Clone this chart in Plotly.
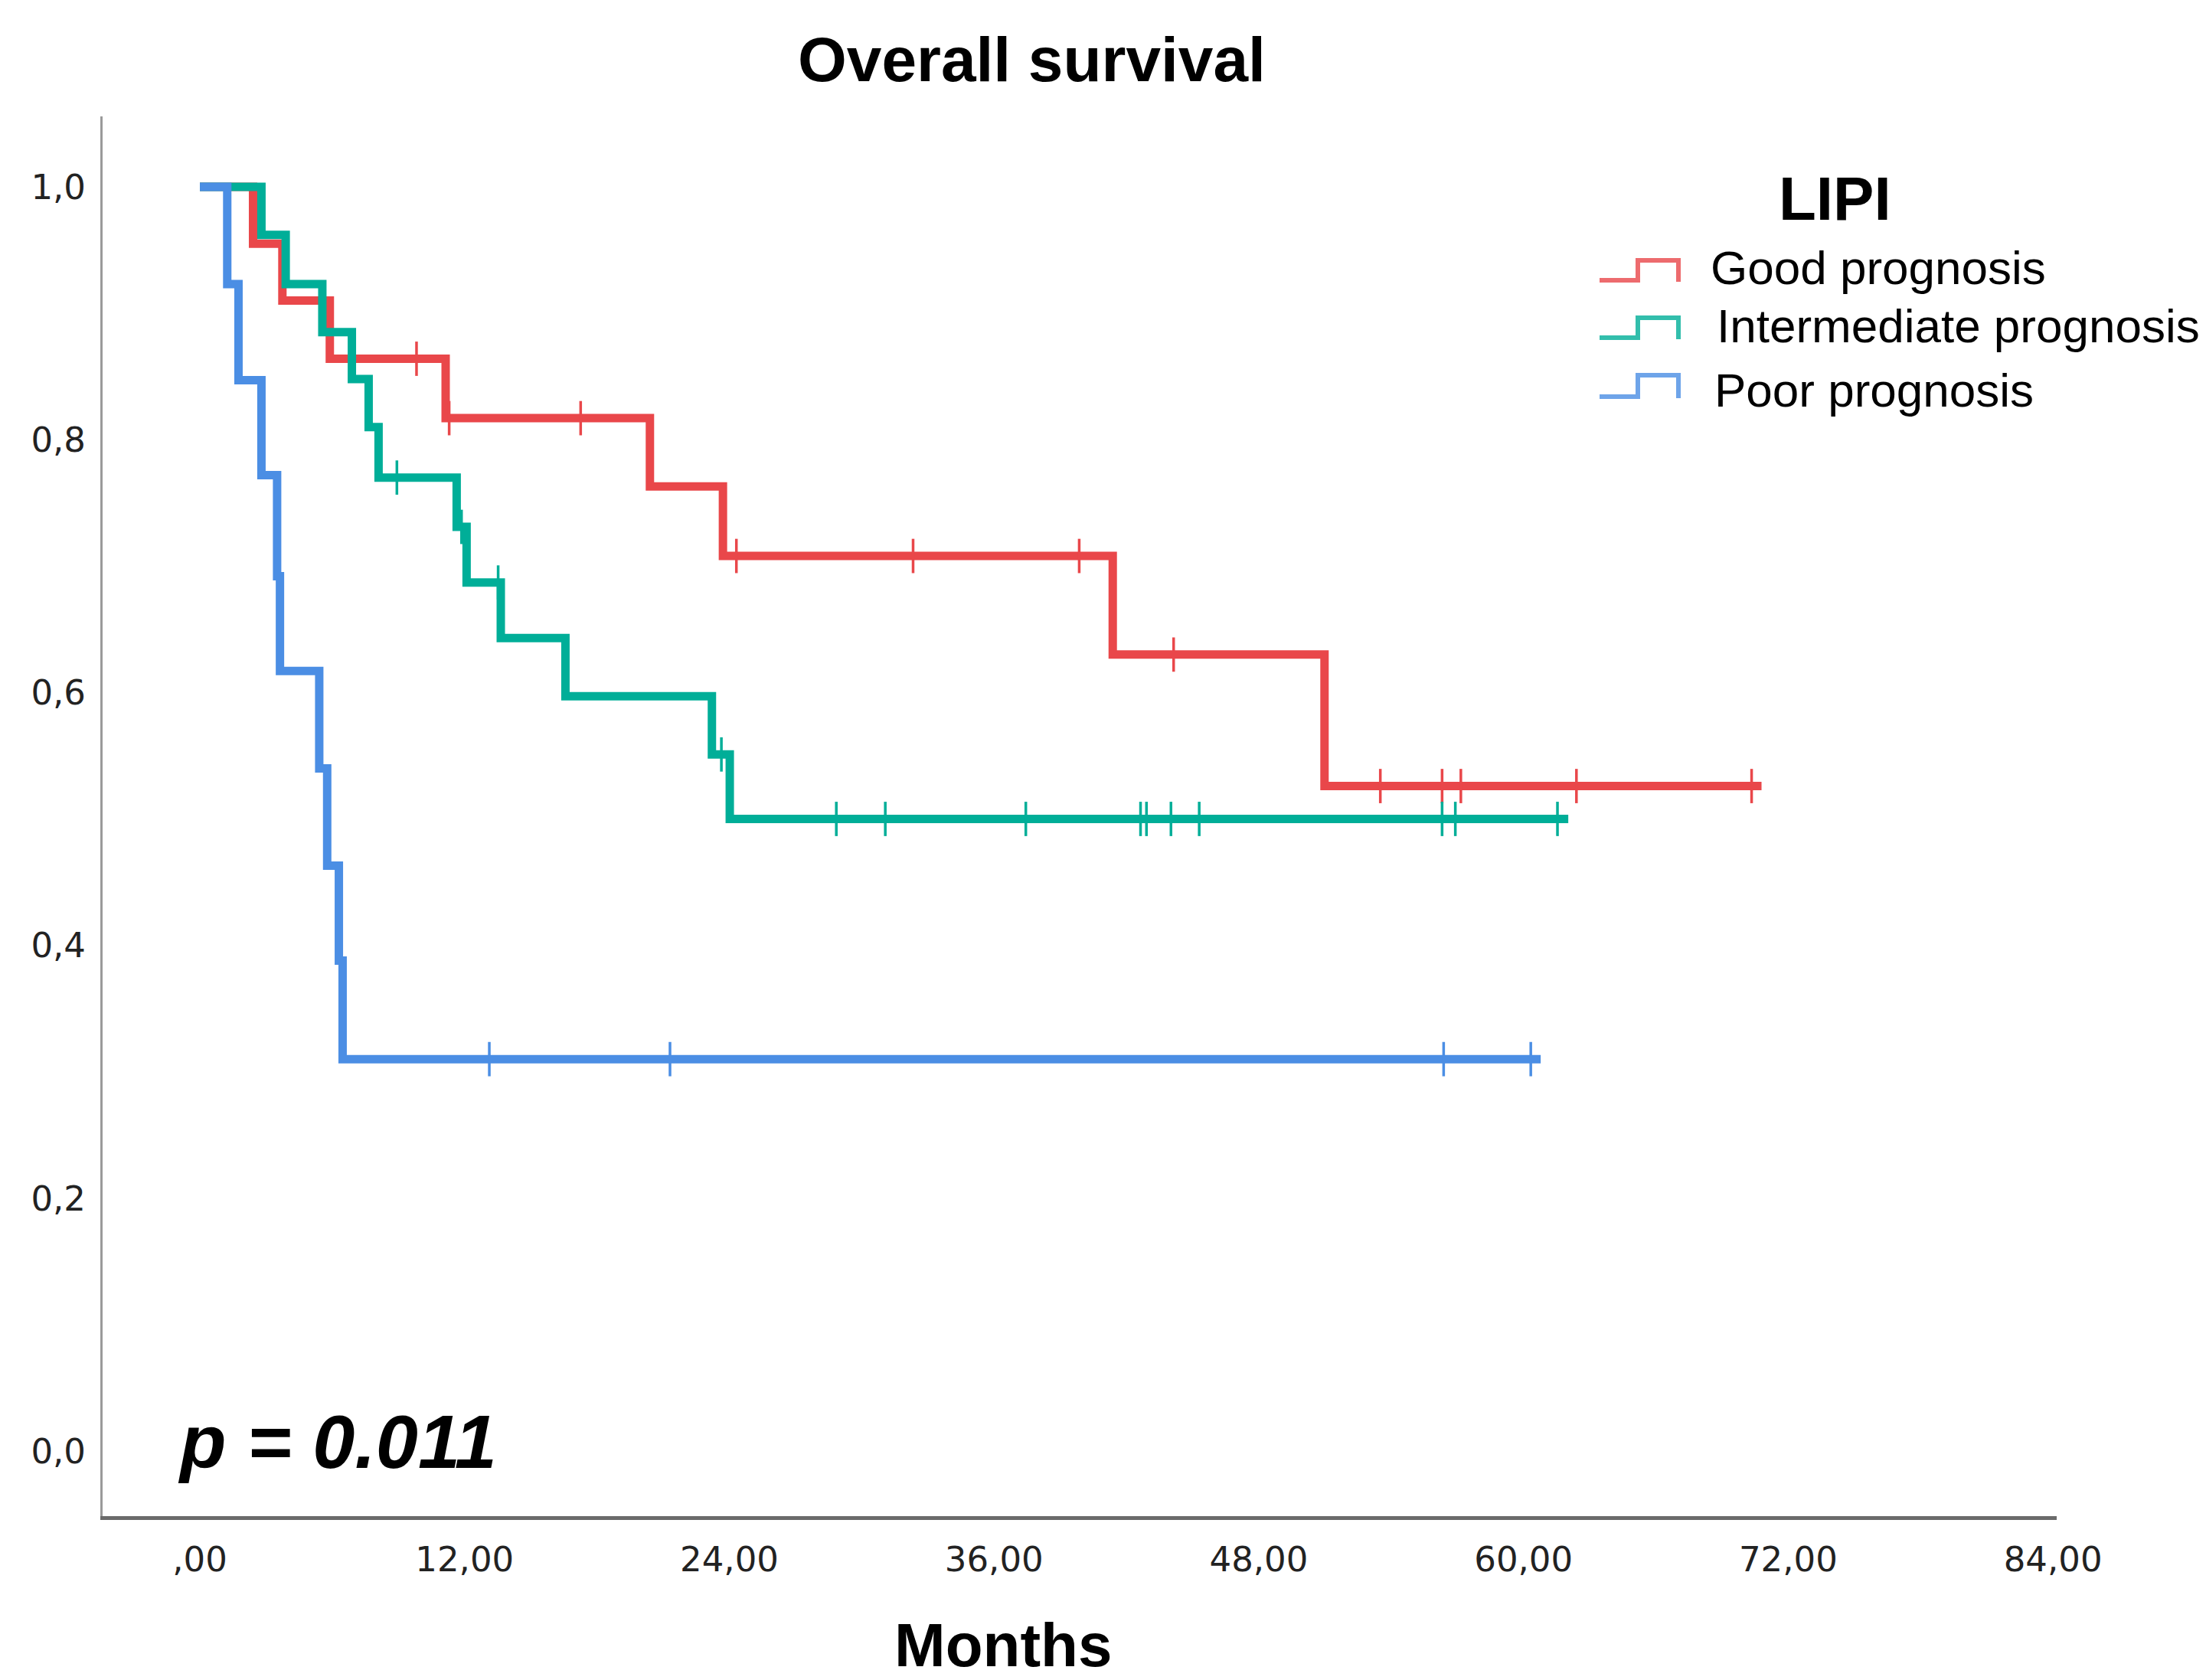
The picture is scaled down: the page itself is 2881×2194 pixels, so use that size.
import plotly.graph_objects as go

# ---------------- data ----------------
group_names = ["Good prognosis", "Intermediate prognosis", "Poor prognosis"]
group_colors = ["#E9474A", "#00AE98", "#4B8EE4"]

good_times = [0, 2.41, 3.74, 5.89, 11.14, 20.40, 23.71, 41.38, 50.98]
good_surv = [1.0, 0.955, 0.910, 0.864, 0.817, 0.763, 0.708, 0.630, 0.526]
good_end = 70.79
good_censored = [9.82, 11.30, 17.26, 24.32, 32.33, 39.86, 44.14, 53.51, 56.31, 57.16, 62.40, 70.34]

inter_times = [0, 2.79, 3.89, 5.55, 6.89, 7.65, 8.10, 11.64, 12.09, 13.64, 16.57, 23.21, 24.02]
inter_surv = [1.0, 0.962, 0.923, 0.885, 0.848, 0.810, 0.770, 0.731, 0.687, 0.643, 0.597, 0.551, 0.500]
inter_end = 62.03
inter_censored = [8.93, 11.86, 13.52, 23.64, 28.85, 31.07, 37.44, 42.64, 42.91, 44.02, 45.30, 56.31, 56.91, 61.54]

poor_times = [0, 1.24, 1.75, 2.79, 3.50, 3.63, 5.41, 5.77, 6.30, 6.47]
poor_surv = [1.0, 0.923, 0.847, 0.772, 0.692, 0.617, 0.540, 0.463, 0.388, 0.310]
poor_end = 60.78
poor_censored = [13.12, 21.31, 56.38, 60.33]

x_tickvals = [0, 12, 24, 36, 48, 60, 72, 84]
x_ticktext = [",00", "12,00", "24,00", "36,00", "48,00", "60,00", "72,00", "84,00"]
y_tickvals = [0.0, 0.2, 0.4, 0.6, 0.8, 1.0]
y_ticktext = ["0,0", "0,2", "0,4", "0,6", "0,8", "1,0"]

p_text = "p = 0.011"
# ------------------------------------------------------------------

W, H = 2881, 2194
L, R, T, B = 134, 195, 152, 214
PW, PH = W - L - R, H - T - B


def px_x(p):
    return (p - L) / PW


def px_y(p):
    return (H - B - p) / PH


def surv_at(times, surv, t):
    s = surv[0]
    for ti, si in zip(times, surv):
        if ti <= t:
            s = si
    return s


groups = [
    (good_times, good_surv, good_end, good_censored),
    (inter_times, inter_surv, inter_end, inter_censored),
    (poor_times, poor_surv, poor_end, poor_censored),
]

fig = go.Figure()
for (times, surv, end, cens), name, col in zip(groups, group_names, group_colors):
    fig.add_trace(go.Scatter(
        x=list(times) + [end], y=list(surv) + [surv[-1]],
        mode="lines", line=dict(color=col, width=11, shape="hv"),
        name=name, showlegend=False, hoverinfo="skip"))
    fig.add_trace(go.Scatter(
        x=cens, y=[surv_at(times, surv, t) for t in cens],
        mode="markers",
        marker=dict(symbol="line-ns", size=32, color=col,
                    line=dict(color=col, width=3.5)),
        showlegend=False, hoverinfo="skip"))

annotations = [
    dict(text="<b>Overall survival</b>", x=px_x(1347), y=px_y(78), xref="paper", yref="paper",
         xanchor="center", yanchor="middle", showarrow=False,
         font=dict(family="Liberation Sans, Arial", size=82, color="#000")),
    dict(text="<b>Months</b>", x=px_x(1310), y=px_y(2148), xref="paper", yref="paper",
         xanchor="center", yanchor="middle", showarrow=False,
         font=dict(family="Liberation Sans, Arial", size=80, color="#000")),
    dict(text="<b><i>" + p_text + "</i></b>", x=px_x(230), y=px_y(1882), xref="paper", yref="paper",
         xanchor="left", yanchor="middle", showarrow=False,
         font=dict(family="Liberation Sans, Arial", size=99, color="#000")),
    dict(text="<b>LIPI</b>", x=px_x(2396), y=px_y(259), xref="paper", yref="paper",
         xanchor="center", yanchor="middle", showarrow=False,
         font=dict(family="Liberation Sans, Arial", size=80, color="#000")),
]

legend_text_x = [2232, 2240, 2237]
legend_text_y = [349, 426, 509]
icon_low = [366, 441, 518]
icon_high = [340, 415, 490]
shapes = []
for name, col, tx, ty, lo, hi in zip(group_names, group_colors, legend_text_x, legend_text_y, icon_low, icon_high):
    annotations.append(dict(text=name, x=px_x(tx), y=px_y(ty), xref="paper", yref="paper",
                            xanchor="left", yanchor="middle", showarrow=False,
                            font=dict(family="Liberation Sans, Arial", size=62, color="#000")))
    path = "M {a},{lo} L {b},{lo} L {b},{hi} L {c},{hi} L {c},{lo2}".format(
        a=px_x(2089), b=px_x(2139), c=px_x(2192), lo=px_y(lo), hi=px_y(hi), lo2=px_y(lo + 2))
    shapes.append(dict(type="path", path=path, xref="paper", yref="paper",
                       line=dict(color=col, width=6), opacity=0.8))

fig.update_layout(
    width=W, height=H,
    margin=dict(l=L, r=R, t=T, b=B, pad=0),
    paper_bgcolor="white", plot_bgcolor="white",
    showlegend=False,
    xaxis=dict(range=[-4.41, 84.17], tickvals=x_tickvals, ticktext=x_ticktext,
               showline=True, linecolor="#6b6b6b", linewidth=5, showgrid=False, zeroline=False,
               ticks="", ticklabelstandoff=13,
               tickfont=dict(family="DejaVu Sans", size=45, color="#222")),
    yaxis=dict(range=[-0.0515, 1.0557], tickvals=y_tickvals, ticktext=y_ticktext,
               showline=True, linecolor="#9a9a9a", linewidth=3, showgrid=False, zeroline=False,
               ticks="", ticklabelstandoff=10,
               tickfont=dict(family="DejaVu Sans", size=45, color="#222")),
    annotations=annotations,
    shapes=shapes,
)

fig.write_html("out.html", config={"displayModeBar": False},
               post_script="document.body.style.margin='0';document.body.style.overflow='hidden';")
